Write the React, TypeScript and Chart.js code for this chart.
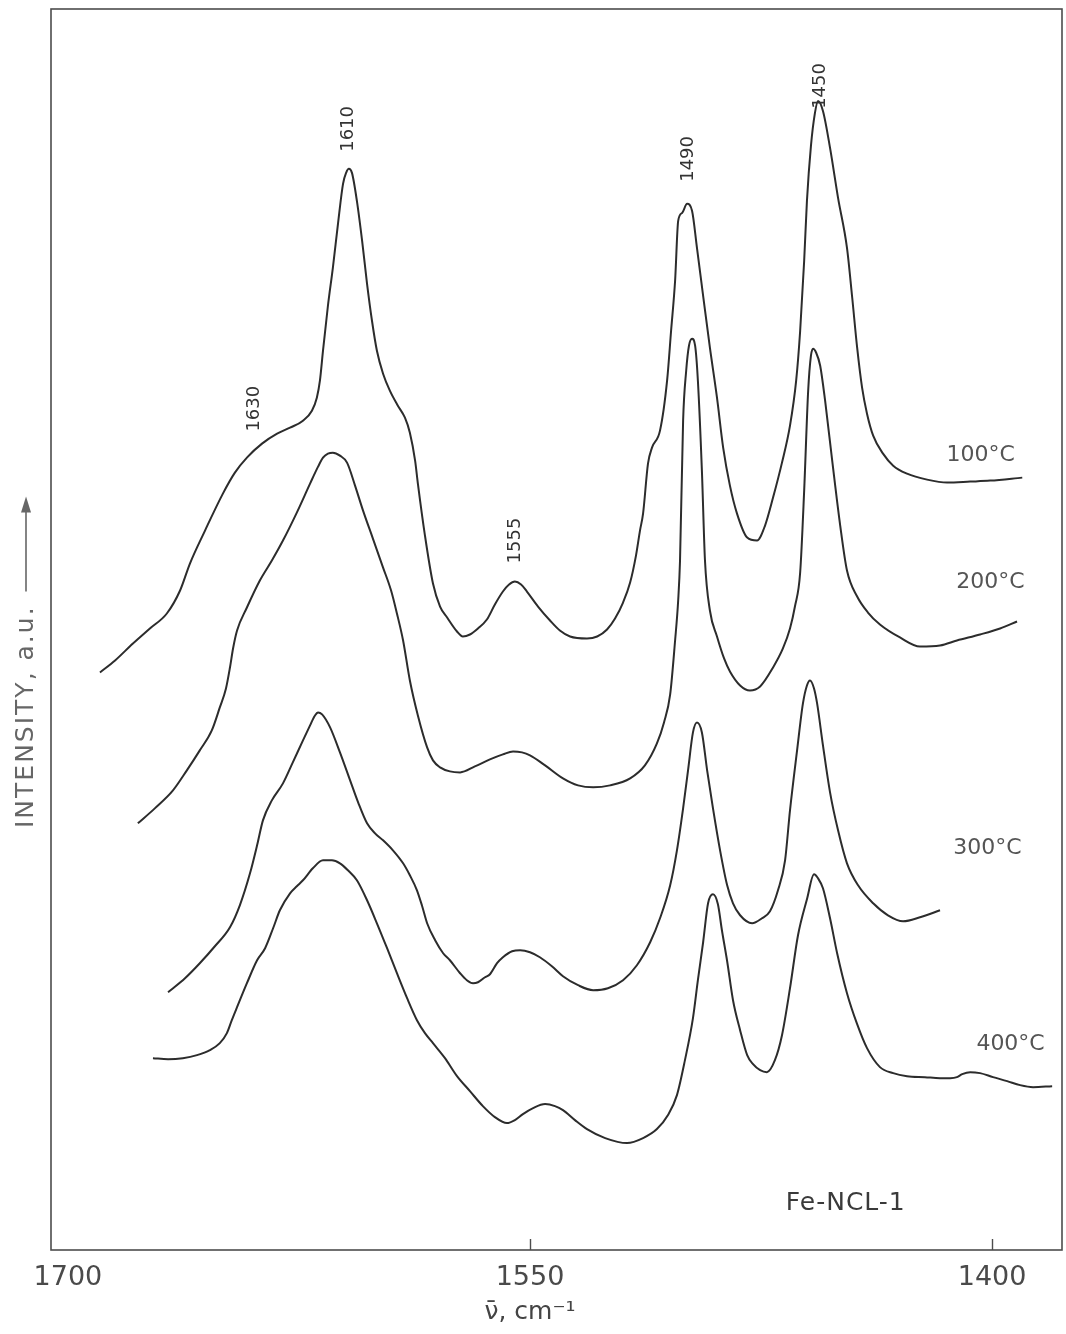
import React, { useEffect, useRef } from "react";
import { Chart, registerables } from "chart.js";

Chart.register(...registerables);

// ---- Data (wavenumber in cm-1, intensity in a.u.) ----
const wn100 = [1689.6, 1684.7, 1678.9, 1673.4, 1667.9, 1663.6, 1660.4, 1655.5, 1649.7, 1645.8, 1641.9, 1637.0, 1632.1, 1627.9, 1623.7, 1620.8, 1619.2, 1618.2, 1617.2, 1615.6, 1614.0, 1612.3, 1610.7, 1609.7, 1608.8, 1607.8, 1606.2, 1604.5, 1602.9, 1601.3, 1599.7, 1597.7, 1595.5, 1592.9, 1590.6, 1589.0, 1587.3, 1586.4, 1584.1, 1581.5, 1579.2, 1576.9, 1573.7, 1571.8, 1569.5, 1566.9, 1564.0, 1561.4, 1558.8, 1556.8, 1554.9, 1552.9, 1551.0, 1547.4, 1543.5, 1540.3, 1537.0, 1531.5, 1528.2, 1525.0, 1522.4, 1519.8, 1517.5, 1515.6, 1514.3, 1513.3, 1511.7, 1510.4, 1507.8, 1505.5, 1504.2, 1502.9, 1501.9, 1500.6, 1499.0, 1497.4, 1495.8, 1493.8, 1491.6, 1489.3, 1487.3, 1485.1, 1482.8, 1479.5, 1476.3, 1473.7, 1471.1, 1468.2, 1465.6, 1463.6, 1462.3, 1461.0, 1460.1, 1458.8, 1457.5, 1456.5, 1454.9, 1452.6, 1450.0, 1447.1, 1445.4, 1443.8, 1442.2, 1440.6, 1438.6, 1435.4, 1432.1, 1427.6, 1421.1, 1414.6, 1407.1, 1400.6, 1390.2];
const int100 = [57.8, 59.0, 60.7, 62.2, 63.7, 66.0, 68.7, 72.0, 75.7, 77.8, 79.3, 80.7, 81.7, 82.3, 83.0, 84.0, 85.3, 87.0, 90.0, 94.5, 98.3, 102.8, 106.7, 107.8, 108.2, 107.8, 105.0, 101.0, 96.7, 93.0, 90.0, 87.7, 86.0, 84.5, 83.3, 81.8, 79.0, 76.7, 71.5, 66.7, 64.4, 63.3, 61.9, 61.4, 61.6, 62.2, 63.1, 64.6, 65.9, 66.6, 66.9, 66.6, 65.9, 64.4, 63.0, 62.0, 61.4, 61.2, 61.4, 62.1, 63.2, 64.8, 66.8, 69.5, 72.0, 73.7, 78.7, 80.3, 82.0, 87.0, 92.0, 97.0, 103.0, 103.8, 104.7, 104.0, 100.3, 95.5, 90.3, 85.3, 80.3, 76.5, 73.7, 71.3, 71.0, 72.5, 75.3, 78.8, 82.5, 87.0, 92.0, 99.0, 105.0, 110.5, 113.8, 115.0, 114.0, 110.3, 105.3, 100.3, 95.3, 90.3, 86.3, 83.7, 81.5, 79.7, 78.5, 77.7, 77.1, 76.8, 76.9, 77.0, 77.3];

const wn200 = [1677.3, 1671.8, 1665.9, 1661.4, 1657.2, 1653.3, 1650.7, 1648.7, 1647.4, 1646.4, 1645.1, 1641.9, 1637.7, 1633.8, 1630.2, 1625.7, 1621.4, 1618.8, 1617.2, 1615.6, 1614.0, 1611.7, 1609.4, 1606.8, 1604.2, 1601.0, 1597.7, 1595.1, 1593.2, 1591.2, 1589.0, 1586.4, 1583.4, 1581.5, 1579.2, 1576.0, 1572.7, 1567.9, 1563.0, 1558.8, 1555.5, 1552.6, 1550.0, 1545.1, 1539.3, 1534.4, 1529.5, 1524.0, 1517.5, 1512.7, 1508.8, 1506.5, 1504.5, 1502.9, 1501.9, 1501.3, 1500.3, 1499.3, 1498.4, 1497.4, 1496.4, 1495.5, 1494.2, 1493.2, 1491.6, 1489.3, 1487.0, 1485.1, 1481.8, 1478.6, 1475.3, 1471.1, 1467.9, 1465.6, 1464.0, 1462.3, 1461.0, 1459.7, 1458.8, 1458.1, 1457.1, 1455.8, 1454.2, 1451.9, 1449.3, 1447.1, 1443.8, 1440.3, 1436.4, 1429.9, 1423.4, 1416.9, 1411.4, 1403.9, 1397.4, 1391.9];
const int200 = [42.7, 44.2, 46.0, 48.0, 50.0, 52.0, 54.3, 56.2, 58.3, 60.2, 62.0, 64.3, 67.0, 69.0, 71.0, 73.8, 76.7, 78.4, 79.3, 79.7, 79.8, 79.5, 78.8, 76.5, 74.0, 71.2, 68.3, 66.0, 63.7, 61.0, 57.0, 53.5, 50.3, 49.0, 48.3, 47.9, 47.8, 48.4, 49.1, 49.6, 49.9, 49.8, 49.5, 48.5, 47.2, 46.5, 46.3, 46.5, 47.2, 48.5, 50.7, 52.8, 55.6, 61.0, 65.0, 69.0, 83.0, 88.0, 90.5, 91.2, 90.5, 87.0, 78.0, 69.0, 64.0, 61.4, 59.2, 57.9, 56.5, 56.0, 56.4, 58.3, 60.2, 62.2, 64.4, 67.8, 76.0, 86.0, 89.5, 90.2, 89.8, 88.5, 85.0, 79.0, 72.5, 68.0, 65.4, 63.8, 62.6, 61.3, 60.4, 60.5, 61.0, 61.6, 62.2, 62.9];

const wn300 = [1667.5, 1662.0, 1657.2, 1652.3, 1647.4, 1644.2, 1640.9, 1638.6, 1636.7, 1633.8, 1630.2, 1627.0, 1623.7, 1621.4, 1619.8, 1618.8, 1617.5, 1614.9, 1611.7, 1608.4, 1605.8, 1602.9, 1600.3, 1597.7, 1594.5, 1591.2, 1589.0, 1586.7, 1585.1, 1583.4, 1580.8, 1578.2, 1576.0, 1572.7, 1570.5, 1568.5, 1566.9, 1564.6, 1563.0, 1560.7, 1558.8, 1555.8, 1553.2, 1550.0, 1546.8, 1542.9, 1539.3, 1534.4, 1529.5, 1524.7, 1519.8, 1515.3, 1511.0, 1507.8, 1504.5, 1502.3, 1500.3, 1498.7, 1497.1, 1495.8, 1494.2, 1492.5, 1490.6, 1488.3, 1486.0, 1484.1, 1481.8, 1477.9, 1474.7, 1472.1, 1469.5, 1467.2, 1465.6, 1463.3, 1461.4, 1460.1, 1459.1, 1457.8, 1456.8, 1454.9, 1452.6, 1450.0, 1447.1, 1443.5, 1438.6, 1433.8, 1428.9, 1423.4, 1416.9];
const int300 = [25.8, 27.2, 28.7, 30.4, 32.3, 34.5, 37.7, 40.5, 43.0, 45.0, 46.7, 48.8, 51.0, 52.5, 53.5, 53.8, 53.6, 52.3, 49.8, 47.0, 44.8, 42.7, 41.7, 41.0, 40.0, 38.7, 37.5, 36.0, 34.5, 32.7, 31.0, 29.7, 29.0, 27.7, 27.0, 26.7, 26.8, 27.3, 27.6, 28.7, 29.3, 29.9, 30.0, 29.8, 29.3, 28.4, 27.4, 26.5, 26.0, 26.2, 27.0, 28.5, 30.8, 33.2, 36.5, 40.0, 44.2, 48.0, 51.8, 52.8, 51.8, 48.0, 44.2, 40.0, 36.5, 34.7, 33.5, 32.7, 33.2, 33.9, 36.0, 39.0, 44.0, 50.0, 54.7, 56.5, 57.0, 56.2, 54.7, 50.5, 45.8, 42.0, 38.7, 36.5, 34.7, 33.5, 32.9, 33.3, 34.0];

const wn400 = [1672.4, 1667.5, 1662.7, 1658.1, 1653.9, 1650.7, 1648.4, 1646.8, 1645.1, 1641.9, 1638.6, 1636.0, 1633.4, 1631.2, 1627.9, 1625.7, 1623.7, 1620.5, 1617.2, 1614.3, 1611.7, 1609.1, 1606.2, 1602.9, 1599.7, 1596.4, 1593.2, 1589.9, 1586.7, 1584.1, 1581.5, 1577.6, 1573.7, 1569.5, 1565.3, 1561.4, 1557.5, 1554.9, 1552.3, 1549.0, 1545.1, 1541.9, 1539.3, 1535.4, 1531.5, 1525.6, 1518.5, 1513.3, 1508.8, 1505.2, 1502.3, 1499.7, 1497.1, 1495.5, 1493.8, 1492.2, 1490.6, 1489.0, 1487.7, 1486.0, 1484.1, 1481.8, 1479.5, 1477.6, 1475.3, 1473.1, 1470.5, 1468.2, 1465.6, 1463.0, 1460.1, 1457.8, 1456.5, 1454.9, 1452.6, 1450.3, 1447.1, 1443.8, 1440.6, 1436.4, 1432.1, 1427.6, 1421.8, 1416.9, 1413.6, 1411.4, 1409.7, 1407.1, 1403.9, 1399.7, 1395.1, 1390.9, 1386.7, 1380.5];
const int400 = [19.2, 19.1, 19.2, 19.5, 20.0, 20.7, 21.7, 23.0, 24.3, 26.7, 29.0, 30.2, 32.2, 34.0, 35.7, 36.4, 37.0, 38.2, 39.0, 39.0, 38.7, 38.0, 37.0, 35.0, 32.7, 30.2, 27.7, 25.2, 23.0, 21.7, 20.7, 19.2, 17.4, 15.9, 14.4, 13.3, 12.7, 13.0, 13.6, 14.2, 14.6, 14.4, 14.0, 13.0, 12.1, 11.2, 10.7, 11.2, 12.1, 13.5, 15.5, 19.0, 23.2, 27.0, 30.8, 34.7, 35.6, 34.6, 32.0, 28.9, 25.0, 22.0, 19.5, 18.6, 18.0, 17.8, 19.0, 21.5, 26.2, 31.5, 35.1, 37.6, 37.2, 36.2, 33.2, 29.7, 25.7, 22.6, 20.2, 18.3, 17.7, 17.4, 17.3, 17.2, 17.2, 17.3, 17.6, 17.8, 17.7, 17.3, 16.9, 16.5, 16.3, 16.4];

const seriesLabels = ["100°C", "200°C", "300°C", "400°C"];
const tickValues = [1700, 1550, 1400];
const innerTickValues = [1550, 1400];

// peak annotations: text, wavenumber, intensity
const peakTexts = ["1630", "1610", "1555", "1490", "1450"];
const peakWn = [1639.6, 1609.1, 1554.9, 1498.7, 1455.8];
const peakInt = [84.2, 112.2, 71.0, 109.2, 116.5];

// temperature label anchors: wavenumber, intensity
const tempWn = [1403.7, 1400.5, 1401.5, 1394.0];
const tempInt = [79.5, 66.8, 40.2, 20.6];

const sampleName = "Fe-NCL-1";
const xTitle = "ν̄, cm⁻¹";
const yTitle = "INTENSITY, a.u.";

const X_MIN = 1377.3;
const X_MAX = 1705.5;
const Y_MIN = 0;
const Y_MAX = 124.2;

const decorPlugin = {
  id: "decor",
  afterDraw(chart: any) {
    const { ctx, chartArea, scales } = chart;
    const xs = scales.x;
    const ys = scales.y;
    ctx.save();
    // frame
    ctx.strokeStyle = "#4d4d4d";
    ctx.lineWidth = 1.6;
    ctx.strokeRect(chartArea.left, chartArea.top, chartArea.right - chartArea.left, chartArea.bottom - chartArea.top);
    // inward ticks
    ctx.lineWidth = 1.4;
    innerTickValues.forEach((v) => {
      const px = Math.round(xs.getPixelForValue(v)) + 0.5;
      ctx.beginPath();
      ctx.moveTo(px, chartArea.bottom);
      ctx.lineTo(px, chartArea.bottom - 11);
      ctx.stroke();
    });
    // peak labels (vertical)
    ctx.fillStyle = "#333";
    ctx.font = '18px "DejaVu Sans"';
    ctx.textAlign = "center";
    ctx.textBaseline = "middle";
    peakTexts.forEach((t, i) => {
      const px = xs.getPixelForValue(peakWn[i]);
      const py = ys.getPixelForValue(peakInt[i]);
      ctx.save();
      ctx.translate(px, py);
      ctx.rotate(-Math.PI / 2);
      ctx.fillText(t, 0, 0);
      ctx.restore();
    });
    // temperature labels
    ctx.fillStyle = "#555";
    ctx.font = '22px "DejaVu Sans"';
    ctx.textAlign = "center";
    seriesLabels.forEach((t, i) => {
      ctx.fillText(t, xs.getPixelForValue(tempWn[i]), ys.getPixelForValue(tempInt[i]));
    });
    // sample name
    ctx.fillStyle = "#3a3a3a";
    ctx.font = '25px "DejaVu Sans"';
    (ctx as any).letterSpacing = "1px";
    ctx.fillText(sampleName, xs.getPixelForValue(1447.5), ys.getPixelForValue(4.7));
    // x title
    (ctx as any).letterSpacing = "0px";
    ctx.fillStyle = "#444";
    ctx.font = '25px "DejaVu Sans"';
    ctx.fillText(xTitle, xs.getPixelForValue(1550), chartArea.bottom + 62);
    // y title rotated with arrow
    ctx.save();
    ctx.translate(26, 828);
    ctx.rotate(-Math.PI / 2);
    ctx.fillStyle = "#666";
    ctx.font = '25px "DejaVu Sans"';
    (ctx as any).letterSpacing = "2px";
    ctx.textAlign = "left";
    ctx.textBaseline = "middle";
    ctx.fillText(yTitle, 0, 0);
    const w = ctx.measureText(yTitle).width;
    const a0 = w + 14;
    const a1 = a0 + 95;
    ctx.strokeStyle = "#666";
    ctx.lineWidth = 1.6;
    ctx.beginPath();
    ctx.moveTo(a0, 0);
    ctx.lineTo(a1 - 6, 0);
    ctx.stroke();
    ctx.fillStyle = "#666";
    ctx.beginPath();
    ctx.moveTo(a1, 0);
    ctx.lineTo(a1 - 16, -5);
    ctx.lineTo(a1 - 16, 5);
    ctx.closePath();
    ctx.fill();
    ctx.restore();
    ctx.restore();
  },
};

export default function App() {
  const ref = useRef<HTMLCanvasElement | null>(null);
  useEffect(() => {
    const canvas = ref.current;
    if (!canvas) return;
    const wns = [wn100, wn200, wn300, wn400];
    const ints = [int100, int200, int300, int400];
    const chart = new Chart(canvas, {
      type: "line",
      data: {
        datasets: seriesLabels.map((label, k) => ({
          label,
          data: wns[k].map((w, i) => ({ x: w, y: ints[k][i] })),
          borderColor: "#2c2c2c",
          borderWidth: 2,
          pointRadius: 0,
          fill: false,
          cubicInterpolationMode: "monotone" as const,
        })),
      },
      options: {
        animation: false,
        responsive: false,
        devicePixelRatio: 1,
        layout: { padding: { left: 51, right: 4, top: 9, bottom: 0 } },
        plugins: { legend: { display: false }, tooltip: { enabled: false } },
        scales: {
          x: {
            type: "linear",
            reverse: true,
            min: X_MIN,
            max: X_MAX,
            afterBuildTicks: (s: any) => {
              s.ticks = tickValues.map((v) => ({ value: v }));
            },
            afterFit: (s: any) => {
              s.height = 84;
              s.paddingLeft = 0;
              s.paddingRight = 0;
            },
            grid: { display: false, drawTicks: false },
            border: { display: false },
            ticks: {
              font: { family: "DejaVu Sans", size: 27 },
              color: "#4a4a4a",
              padding: 12,
              maxRotation: 0,
              autoSkip: false,
              callback: (v: any) => String(v),
            },
          },
          y: { display: false, min: Y_MIN, max: Y_MAX },
        },
      },
      plugins: [decorPlugin],
    } as any);
    return () => chart.destroy();
  }, []);
  return (
    <div style={{ position: "absolute", left: 0, top: 0, width: 1066, height: 1334, background: "#fff" }}>
      <canvas ref={ref} width={1066} height={1334} style={{ display: "block" }} />
    </div>
  );
}
